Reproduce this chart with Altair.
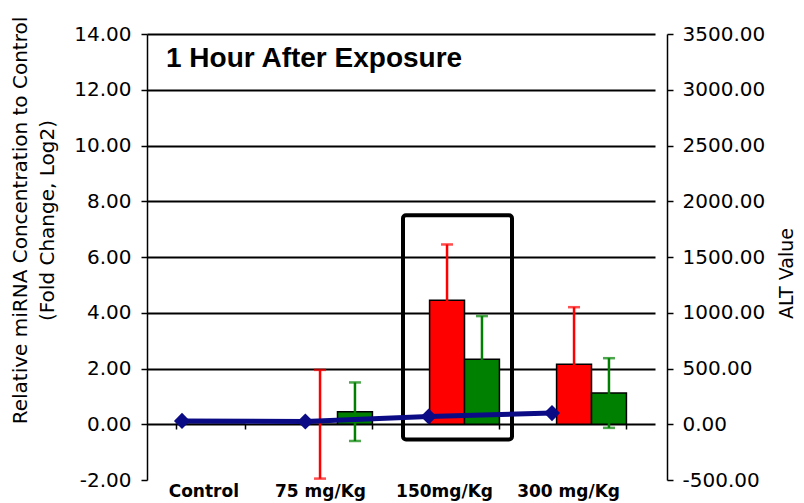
import altair as alt
import pandas as pd

# ---- data ----
doses = ["Control", "75 mg/Kg", "150mg/Kg", "300 mg/Kg"]
series_names = ["Series 1", "Series 2"]
series_colors = ["#FF0000", "#008000"]
mirna_s1 = [0.0, 0.0, 4.45, 2.15]
mirna_s1_err = [0.0, 1.95, 2.0, 2.05]
mirna_s2 = [0.0, 0.45, 2.33, 1.12]
mirna_s2_err = [0.0, 1.05, 1.55, 1.25]
alt_values = [30, 25, 70, 100]
left_ticks = [-2, 0, 2, 4, 6, 8, 10, 12, 14]
right_ticks = [-500, 0, 500, 1000, 1500, 2000, 2500, 3000, 3500]
box_dose = ["150mg/Kg"]
box_top = [7.5]
box_bottom = [-0.55]
chart_title = "1 Hour After Exposure"
left_title = ["Relative miRNA Concentration to Control", "(Fold Change, Log2)"]
right_title = "ALT Value"

# ---- tables ----
rows = []
for i, d in enumerate(doses):
    for s, m, e in ((series_names[0], mirna_s1, mirna_s1_err), (series_names[1], mirna_s2, mirna_s2_err)):
        rows.append({"dose": d, "series": s, "value": m[i], "lo": m[i] - e[i], "hi": m[i] + e[i], "err": e[i]})
bars_df = pd.DataFrame(rows)
err_df = bars_df[bars_df["err"] > 0]
alt_df = pd.DataFrame({"dose": doses, "alt": alt_values})
box_df = pd.DataFrame({"dose": box_dose, "top": box_top, "bottom": box_bottom})

FONT = "DejaVu Sans"

x_band = alt.X(
    "dose:N", sort=doses,
    scale=alt.Scale(range=[0, 508], paddingInner=0.45, paddingOuter=0.225),
    axis=alt.Axis(
        title=None, orient="bottom", offset=-56, domain=False,
        tickBand="extent", tickSize=5, tickWidth=1.5, tickColor="black",
        labelPadding=54, labelFont=FONT, labelFontSize=17, labelFontWeight="bold",
        labelColor="black", labelAngle=0, labelAlign="right", labelOffset=28,
    ),
)
y_left_scale = alt.Scale(domain=[-2, 14], nice=False)
y_left = alt.Y(
    "value:Q", scale=y_left_scale,
    axis=alt.Axis(
        title=left_title, values=left_ticks, format=".2f",
        labelExpr="replace(datum.label, '\u2212', '-')",
        grid=True,
        gridColor={"condition": {"test": "datum.value < -1", "value": "transparent"}, "value": "black"},
        gridWidth=2,
        domainColor="black", domainWidth=1.5,
        tickColor="black", tickSize=6, tickWidth=1.5,
        labelPadding=10, labelFont=FONT, labelFontSize=20, labelColor="black",
        titleFont=FONT, titleFontSize=20, titleFontWeight="normal", titleColor="black",
        titleAngle=270, titleX=-137, titleY=186, titleAlign="center", titleBaseline="top",
        titleLineHeight=27,
    ),
)
x_off = alt.XOffset("series:N", sort=series_names, scale=alt.Scale(paddingInner=0))
color = alt.Color("series:N", scale=alt.Scale(domain=series_names, range=series_colors), legend=None)

bars = alt.Chart(bars_df).mark_bar(stroke="black", strokeWidth=1.5).encode(
    x=x_band, xOffset=x_off, y=y_left, color=color
)
err_rule = alt.Chart(err_df).mark_rule(strokeWidth=2.5).encode(
    x=x_band, xOffset=x_off,
    y=alt.Y("lo:Q", scale=y_left_scale), y2="hi:Q", color=color
)
err_hi = alt.Chart(err_df).mark_tick(size=12, thickness=2.5).encode(
    x=x_band, xOffset=x_off, y=alt.Y("hi:Q", scale=y_left_scale), color=color
)
err_lo = alt.Chart(err_df).mark_tick(size=12, thickness=2.5).encode(
    x=x_band, xOffset=x_off, y=alt.Y("lo:Q", scale=y_left_scale), color=color
)
box = alt.Chart(box_df).mark_bar(
    filled=False, stroke="black", strokeWidth=4, width=109, xOffset=-7, cornerRadius=3
).encode(x=x_band, y=alt.Y("top:Q", scale=y_left_scale), y2="bottom:Q")

left_group = alt.layer(bars, err_rule, err_hi, err_lo, box)

x_point = alt.X("dose:N", sort=doses, scale=alt.Scale(type="point", range=[35, 405], padding=0), axis=None)
y_right = alt.Y(
    "alt:Q", scale=alt.Scale(domain=[-500, 3500], nice=False),
    axis=alt.Axis(
        orient="right", title=right_title, values=right_ticks, format=".2f", grid=False,
        labelExpr="replace(datum.label, '\u2212', '-')",
        domainColor="black", domainWidth=1.5,
        tickColor="black", tickSize=6, tickWidth=1.5,
        labelPadding=9, labelFont=FONT, labelFontSize=20, labelColor="black",
        titleFont=FONT, titleFontSize=19, titleFontWeight="normal", titleColor="black",
        titleAngle=270, titleX=119, titleY=239, titleAlign="center", titleBaseline="middle",
    ),
)
alt_line = alt.Chart(alt_df).mark_line(color="#0B0B85", strokeWidth=5).encode(x=x_point, y=y_right)
alt_pts = alt.Chart(alt_df).mark_point(
    shape="diamond", filled=True, size=260, color="#0B0B85", opacity=1
).encode(x=x_point, y=y_right)
right_group = alt.layer(alt_line, alt_pts)

chart = alt.layer(left_group, right_group).resolve_scale(
    x="independent", y="independent"
).properties(
    width=520, height=446,
    autosize=alt.AutoSizeParams(type="none"),
    padding={"left": 139, "top": 26, "right": 129, "bottom": 22},
    title=alt.TitleParams(
        text=chart_title, anchor="start", orient="top", frame="group",
        offset=-31, dx=19, dy=54, font="Liberation Sans", fontSize=28, fontWeight="bold",
        color="black", baseline="bottom",
    ),
    background="white",
).configure_view(stroke=None)

chart.save("out.html", embed_options={"renderer": "svg", "actions": False})
